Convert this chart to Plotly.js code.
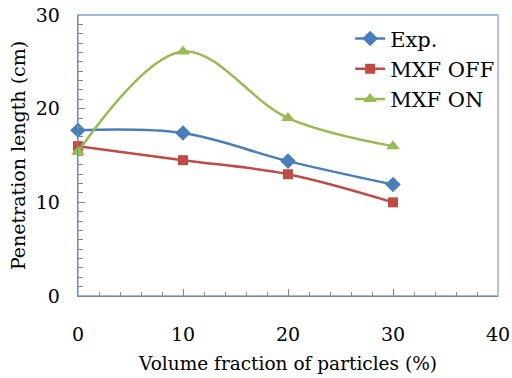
<!DOCTYPE html>
<html>
<head>
<meta charset="utf-8">
<script src="https://cdn.plot.ly/plotly-3.0.1.min.js"></script>
<style>html,body{margin:0;padding:0;background:#fff;}#chart{width:512px;height:378px;}</style>
</head>
<body>
<div id="chart"></div>
<script>
var volumeFraction = [0, 10, 20, 30];
var expValues = [17.7, 17.4, 14.4, 11.9];
var mxfOffValues = [16.0, 14.5, 13.0, 10.0];
var mxfOnValues = [15.4, 26.1, 19.0, 16.0];
var seriesNames = ["Exp.", "MXF OFF", "MXF ON"];

var fontFam = "DejaVu Serif";

function mk(name, y, color, symbol, size) {
  return {
    x: volumeFraction, y: y, name: name, type: "scatter", mode: "lines+markers",
    line: {color: color, width: 2.5, shape: "spline", smoothing: 1},
    marker: {color: color, symbol: symbol, size: size},
    cliponaxis: false
  };
}

var data = [
  mk(seriesNames[0], expValues, "#4a7ebb", "diamond", 12),
  mk(seriesNames[1], mxfOffValues, "#be4b48", "square", 10),
  mk(seriesNames[2], mxfOnValues, "#98b954", "triangle-up", 12)
];

var layout = {
  width: 512, height: 378,
  margin: {l: 78, r: 14, t: 15, b: 82},
  paper_bgcolor: "#fff", plot_bgcolor: "#fff",
  font: {family: fontFam, size: 18, color: "#000"},
  showlegend: true,
  legend: {x: 0.648, y: 0.988, xanchor: "left", yanchor: "top", bgcolor: "rgba(0,0,0,0)",
           font: {family: fontFam, size: 21, color: "#000"}, tracegroupgap: 0, itemwidth: 30},
  xaxis: {
    range: [0, 40], dtick: 10, tick0: 0, showgrid: false, zeroline: false,
    showline: true, linecolor: "#868686", linewidth: 1.3,
    ticks: "inside", ticklen: 7, tickcolor: "#868686", tickwidth: 1,
    minor: {dtick: 2, ticks: "inside", ticklen: 4, tickcolor: "#868686", showgrid: false},
    ticklabelstandoff: 21,
    tickfont: {family: fontFam, size: 19, color: "#000"},
    title: {text: "Volume fraction of particles (%)", font: {family: fontFam, size: 18.5, color: "#000"}, standoff: 13}
  },
  yaxis: {
    range: [0, 30], dtick: 10, tick0: 0, showgrid: false, zeroline: false,
    showline: true, linecolor: "#868686", linewidth: 1.3,
    ticks: "inside", ticklen: 7, tickcolor: "#868686", tickwidth: 1,
    minor: {dtick: 1, ticks: "inside", ticklen: 5, tickcolor: "#868686", showgrid: false},
    ticklabelstandoff: 13,
    tickfont: {family: fontFam, size: 19, color: "#000"},
    title: {text: "Penetration length (cm)", font: {family: fontFam, size: 19, color: "#000"}, standoff: 5}
  },
  shapes: [{type: "rect", xref: "paper", yref: "paper", x0: 0, x1: 1, y0: 0, y1: 1,
            line: {color: "#7ea6d8", width: 1.3}, layer: "below"}]
};

Plotly.newPlot("chart", data, layout, {displayModeBar: false, staticPlot: true});
</script>
</body>
</html>
